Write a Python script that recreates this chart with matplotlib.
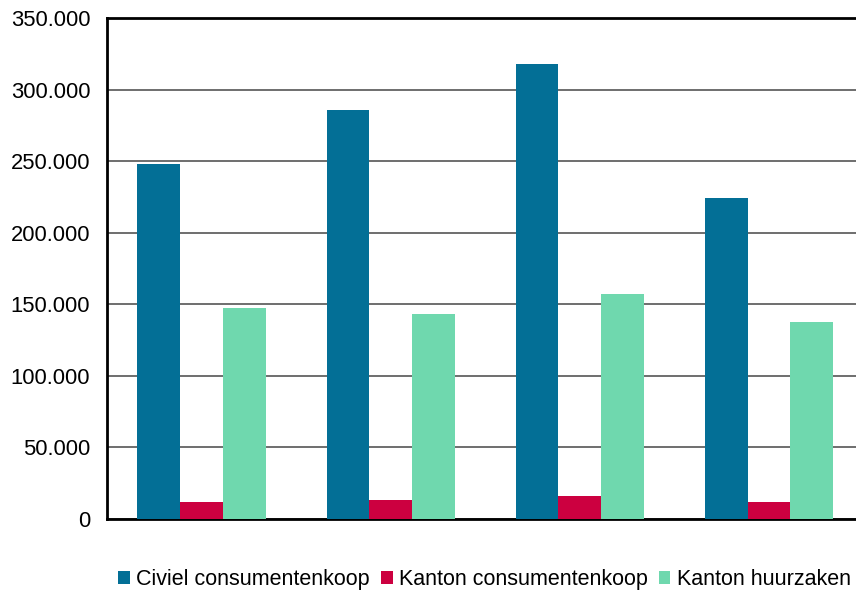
import matplotlib.pyplot as plt
from matplotlib.ticker import FuncFormatter
import numpy as np

plt.rcParams['font.family'] = ['Liberation Sans', 'DejaVu Sans']

# values
groups = ['1', '2', '3', '4']
civiel = [248000, 285700, 318000, 224500]
kanton_koop = [12000, 13300, 16100, 12000]
kanton_huur = [147400, 143200, 157200, 137600]
series = ['Civiel consumentenkoop', 'Kanton consumentenkoop', 'Kanton huurzaken']
colors = ['#036f96', '#cc0040', '#6fd8ae']

fig = plt.figure(figsize=(8.56, 5.94), dpi=100)
ax = fig.add_axes([0.125, 0.1263, 0.875, 0.8434])

x = np.arange(len(groups))
w = 0.226
for i, (vals, name, c) in enumerate(zip([civiel, kanton_koop, kanton_huur], series, colors)):
    ax.bar(x + (i - 1) * w, vals, width=w, color=c, label=name, zorder=3)

ax.set_ylim(0, 350000)
ax.set_xlim(-0.5, 3.46)
ax.set_yticks(np.arange(0, 350001, 50000))
ax.yaxis.set_major_formatter(FuncFormatter(lambda v, p: f'{int(v):,}'.replace(',', '.')))
ax.set_xticks([])
ax.grid(axis='y', color='#555555', linewidth=1.2, zorder=0)
ax.tick_params(axis='y', length=0, labelsize=15.8, pad=12)

for s in ['left', 'bottom', 'top']:
    ax.spines[s].set_linewidth(2)
    ax.spines[s].set_color('black')
ax.spines['right'].set_visible(False)

fig.legend(loc='center', bbox_to_anchor=(0.566, 0.0236), ncol=3, frameon=False,
           fontsize=15.5, handlelength=0.55, handleheight=0.55,
           handletextpad=0.3, columnspacing=0.5)

plt.savefig('out.png', dpi=100)
